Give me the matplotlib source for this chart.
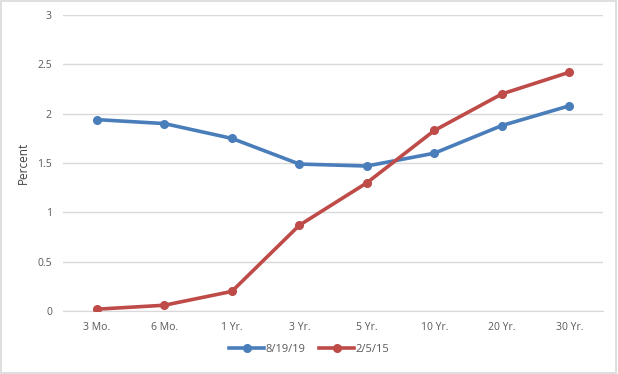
import numpy as np
import matplotlib.pyplot as plt
from matplotlib.patches import Rectangle

# treasury yield curve, two dates
maturities = ['3 Mo.', '6 Mo.', '1 Yr.', '3 Yr.', '5 Yr.', '10 Yr.', '20 Yr.', '30 Yr.']
yields_2019 = [1.94, 1.90, 1.75, 1.49, 1.47, 1.60, 1.88, 2.08]
yields_2015 = [0.02, 0.06, 0.20, 0.87, 1.30, 1.83, 2.20, 2.42]
yticks = [0, 0.5, 1, 1.5, 2, 2.5, 3]
ytick_labels = ['0', '0.5', '1', '1.5', '2', '2.5', '3']

plt.rcParams['font.family'] = ['Open Sans', 'DejaVu Sans']

fig = plt.figure(figsize=(6.18, 3.74), dpi=100)
ax = fig.add_axes([0.102, 0.168, 0.874, 0.792])

x = np.arange(len(maturities))
ax.plot(x, yields_2019, color='#4A7EBB', lw=2.6, marker='o', ms=5.5, label='8/19/19', zorder=3)
ax.plot(x, yields_2015, color='#BE4B48', lw=2.6, marker='o', ms=5.5, label='2/5/15', zorder=3)

ax.set_xlim(-0.5, len(maturities) - 0.5)
ax.set_ylim(0, 3)
ax.set_xticks(x)
ax.set_xticklabels(maturities)
ax.set_yticks(yticks)
ax.set_yticklabels(ytick_labels)
ax.tick_params(length=0, labelsize=7.5, colors='#595959', pad=8)
ax.grid(axis='y', color='#D9D9D9', lw=1)
ax.set_axisbelow(True)
for s in ['top', 'right', 'left']:
    ax.spines[s].set_visible(False)
ax.spines['bottom'].set_color('#D9D9D9')
ax.set_ylabel('Percent', fontsize=8.5, color='#404040', labelpad=5)

leg = fig.legend(loc='lower center', bbox_to_anchor=(0.5, 0.025), ncol=2, frameon=False,
                 fontsize=8, handlelength=3.2, columnspacing=1.2, handletextpad=0.1)
for t in leg.get_texts():
    t.set_color('#595959')

# outer chart border
fig.patches.append(Rectangle((0.002, 0.003), 0.995, 0.994, transform=fig.transFigure,
                             fill=False, edgecolor='#D9D9D9', lw=1.2))

fig.savefig('out.png', dpi=100)
